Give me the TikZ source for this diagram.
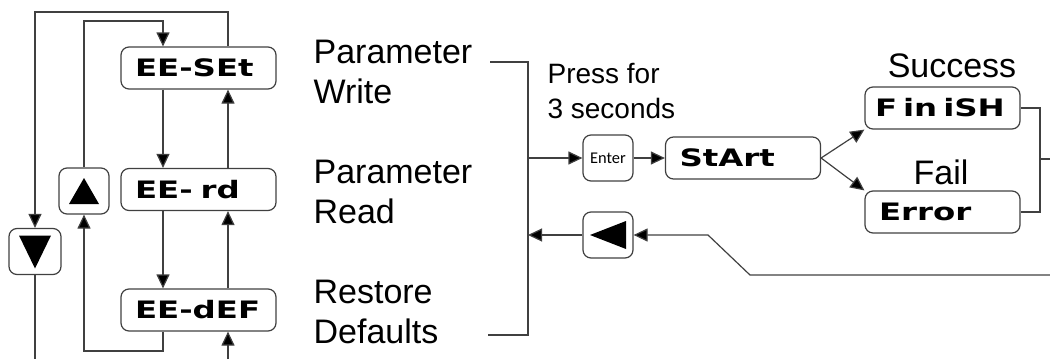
\documentclass[tikz,border=0pt]{standalone}
\usepackage{fontspec}
\setmainfont{Liberation Sans}
\newfontfamily\lcdfont[FakeStretch=1.35]{DejaVu Sans}
\newfontfamily\keyfont{Carlito}
\usetikzlibrary{arrows.meta}

\begin{document}
\begin{tikzpicture}[x=0.5pt,y=-0.5pt,line width=0.6pt,
  lcd/.style={draw=black!75,rounded corners=4pt,minimum width=77.5pt,minimum height=21pt,
    inner xsep=7pt,text width=63.5pt,align=left,font=\lcdfont\bfseries\fontsize{12}{13}\selectfont},
  btn/.style={draw=black!75,rounded corners=4pt,minimum width=25pt,minimum height=23pt,inner sep=0pt},
  lbl/.style={align=left,inner sep=0pt,font=\fontsize{17}{20}\selectfont},
  wire/.style={draw=black!75},
  flow/.style={-{Triangle[length=7pt,width=6.5pt,fill=black]}}]

  \useasboundingbox (0,0) rectangle (1050,359);

  % display states
  \node[lcd] (set) at (198.5,68) {EE-SEt};
  \node[lcd] (rd) at (198.5,189.5) {EE- rd};
  \node[lcd] (def) at (198.5,310) {EE-dEF};
  \node[lcd] (start) at (743,158) {StArt};
  \node[lcd,inner xsep=5pt,text width=67.5pt] (finish) at (942.5,108) {{\spaceskip=.25em F in iSH}};
  \node[lcd] (error) at (942.5,212) {Error};

  % keys
  \node[btn] (up) at (84,191) {};
  \node[btn,minimum width=26pt] (down) at (35,251.5) {};
  \node[btn] (enter) at (608,158) {\keyfont\fontsize{8.2}{9}\selectfont Enter};
  \node[btn] (back) at (608,235) {};
  \fill[shift={(up.center)}] (-15,13) -- (15,13) -- (0,-13) -- cycle;
  \fill[shift={(down.center)}] (-16,-16) -- (16,-16) -- (0,17) -- cycle;
  \fill[shift={(back.center)}] (18,-14) -- (18,14) -- (-18,0) -- cycle;

  \node[lbl,anchor=west] (write) at (313,71.5) {Parameter\\Write};
  \node[lbl,anchor=west] (read) at (313,192) {Parameter\\Read};
  \node[lbl,anchor=west] (restore) at (313,311.5) {Restore\\Defaults};
  \node[lbl,anchor=west,font=\fontsize{14}{17.5}\selectfont] (hold) at (547,91.5) {Press for\\3 seconds};
  \node[lbl,anchor=base] (ok) at (952,77) {Success};
  \node[lbl,anchor=base] (fail) at (941,184) {Fail};

  \coordinate (lft) at (163,0);
  \coordinate (rgt) at (228,0);
  \coordinate (outer) at (35,12);
  \coordinate (inner) at (163,21);
  \coordinate (loop) at (84,351);
  \coordinate (downend) at (35,359);
  \coordinate (upend) at (228,359);

  % up/down scrolling
  \draw[wire,flow] (set.north -| rgt) |- (outer) -- (down);
  \draw[wire] (down) -- (downend);
  \draw[wire,flow] (upend) -- (def.south -| rgt);
  \draw[wire,flow] (up) |- (inner) -- (set.north -| lft);
  \draw[wire,flow] (def.south -| lft) |- (loop) -- (up);
  \draw[wire,flow] (set.south -| lft) -- (rd.north -| lft);
  \draw[wire,flow] (rd.south -| lft) -- (def.north -| lft);
  \draw[wire,flow] (def.north -| rgt) -- (rd.south -| rgt);
  \draw[wire,flow] (rd.north -| rgt) -- (set.south -| rgt);

  \coordinate (bt) at (490,62);
  \coordinate (bb) at (488,335);
  \coordinate (bin) at (528,158);
  \coordinate (bret) at (528,235);
  \coordinate (rb) at (1040,159);
  \coordinate (rout) at (1050,159);
  \coordinate (rin) at (1050,275);
  \coordinate (bend) at (750,275);
  \coordinate (kink) at (708,235);

  % execute and return
  \draw[wire] (bt) -| (bin |- bb) -- (bb);
  \draw[wire,flow] (bin) -- (enter);
  \draw[wire,flow] (enter) -- (start);
  \draw[wire,flow] (start.east) -- (finish.south west);
  \draw[wire,flow] (start.east) -- (error.north west);
  \draw[wire] (finish.east) -| (rb) |- (error.east);
  \draw[wire] (rb) -- (rout);
  \draw[wire,flow] (rin) -- (bend) -- (kink) -- (back);
  \draw[wire,flow] (back) -- (bret);
\end{tikzpicture}
\end{document}
